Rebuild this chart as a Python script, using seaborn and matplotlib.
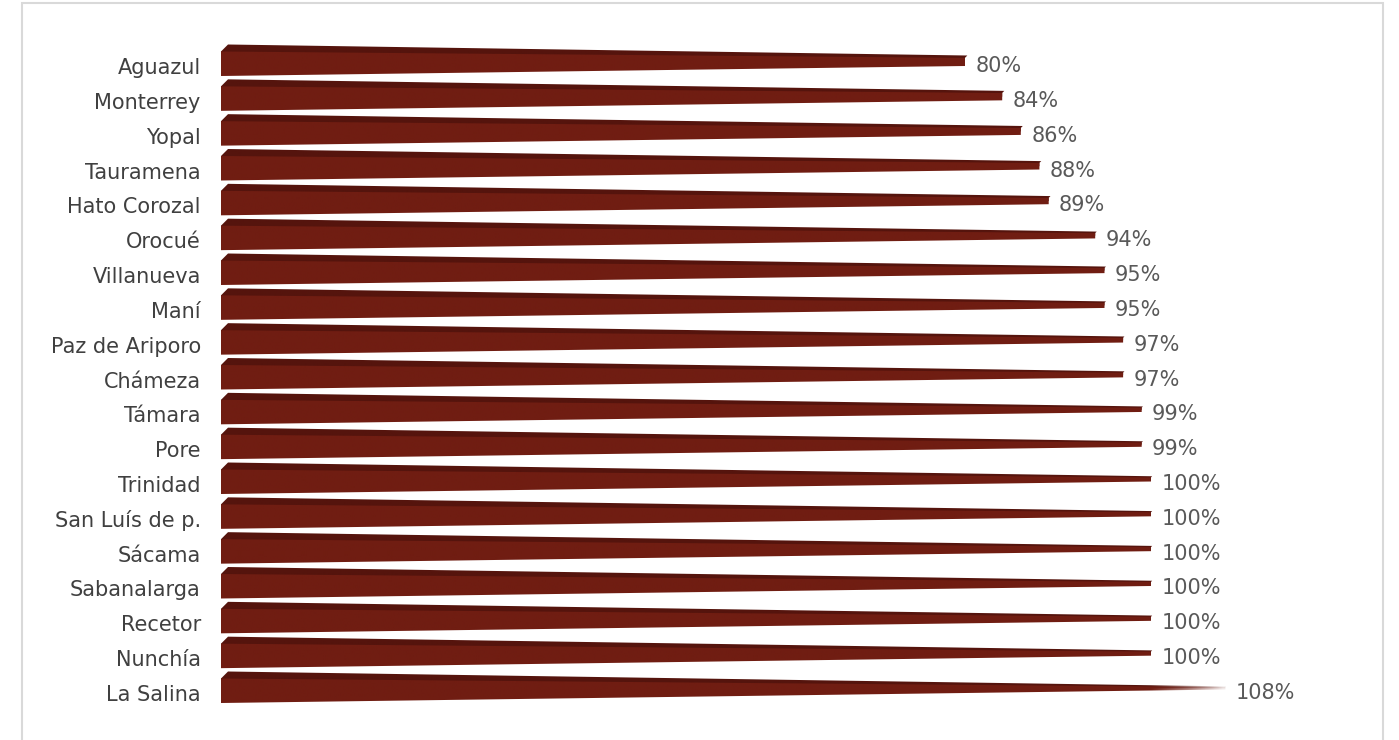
import matplotlib
matplotlib.use("Agg")
import matplotlib.pyplot as plt
import seaborn as sns
import pandas as pd
import numpy as np
from matplotlib.patches import Polygon, Rectangle
from matplotlib.colors import to_rgb

municipios = ["Aguazul", "Monterrey", "Yopal", "Tauramena", "Hato Corozal", "Orocué",
              "Villanueva", "Maní", "Paz de Ariporo", "Chámeza", "Támara", "Pore",
              "Trinidad", "San Luís de p.", "Sácama", "Sabanalarga", "Recetor",
              "Nunchía", "La Salina"]
valores = [80, 84, 86, 88, 89, 94, 95, 95, 97, 97, 99, 99, 100, 100, 100, 100, 100, 100, 108]

df = pd.DataFrame({"municipio": municipios, "valor": [v / 100 for v in valores]})

sns.set_theme(style="white")
plt.rcParams["font.family"] = ["DejaVu Sans"]

W, H = 1399, 740
fig = plt.figure(figsize=(W / 100, H / 100), dpi=100)
fig.patch.set_facecolor("white")

ax_left, ax_right = 221, 1383
ax = fig.add_axes([ax_left / W, 0, (ax_right - ax_left) / W, 1])
ax.set_facecolor("none")

sns.barplot(data=df, y="municipio", x="valor", orient="h", ax=ax,
            color="#6f1d12", width=0.7, saturation=1)

px_per_unit = 930.0
xmax = (ax_right - ax_left) / px_per_unit
row_px = (693 - 66) / 18.0
ylim = ((H - 66) / row_px, -66 / row_px)
ax.set_xlim(0, xmax)
ax.set_ylim(*ylim)

apex_x = 1.2
front_col = "#701d12"
top_col = "#55140d"

def py(p):
    return p / row_px

def gradient_fill(poly, color, z):
    # colour with alpha fading towards the pyramid tip
    xs = np.linspace(0, xmax, 600)
    alpha = np.clip(1 - (xs - 1.0) / 0.085, 0.08, 1.0)
    rgba = np.zeros((2, xs.size, 4))
    rgba[..., :3] = to_rgb(color)
    rgba[..., 3] = alpha
    im = ax.imshow(rgba, extent=(0, xmax, ylim[0], ylim[1]), aspect="auto",
                   interpolation="bilinear", zorder=z)
    poly.set_facecolor("none")
    poly.set_edgecolor("none")
    ax.add_patch(poly)
    im.set_clip_path(poly)

patches = list(ax.patches)
for p in patches:
    v = p.get_width()
    c = p.get_y() + p.get_height() / 2
    p.remove()
    f = v / apex_x
    top_f = c + py(-14.5)
    top_b = c + py(-21.5)
    bot = c + py(10)
    apex_y = c + py(-5)
    dx = 7 / px_per_unit
    tf_end = top_f + (apex_y - top_f) * f
    tb_end = top_b + (apex_y - top_b) * f
    bt_end = bot + (apex_y - bot) * f
    front = Polygon([(0, top_f), (v, tf_end), (v, bt_end), (0, bot)], closed=True)
    # top face polygon extends behind the front face to avoid a seam
    top = Polygon([(0, top_f), (dx, top_b), (v + dx * (1 - f), tb_end), (v, tf_end),
                   (v, (tf_end + bt_end) / 2), (0, (top_f + bot) / 2)], closed=True)
    gradient_fill(top, top_col, 2)
    gradient_fill(front, front_col, 2.1)
    ax.annotate(f"{int(round(v * 100))}%", xy=(v, c), xytext=(7.5, 0),
                textcoords="offset points", ha="left", va="center",
                fontsize=15, color="#595959")

ax.set_xlim(0, xmax)
ax.set_ylim(*ylim)
ax.set_yticks(range(len(municipios)))
ax.set_yticklabels(municipios, fontsize=15, color="#404040")
ax.tick_params(axis="y", length=0, pad=14.5)
ax.set_xticks([])
ax.set_xlabel("")
ax.set_ylabel("")
for s in ax.spines.values():
    s.set_visible(False)

fig.patches.append(Rectangle((22 / W, -0.05), (1383 - 22) / W, 1.05 - 3 / H,
                             transform=fig.transFigure, fill=False,
                             edgecolor="#d9d9d9", lw=1.5))

fig.savefig("out.png", dpi=100, facecolor="white")
